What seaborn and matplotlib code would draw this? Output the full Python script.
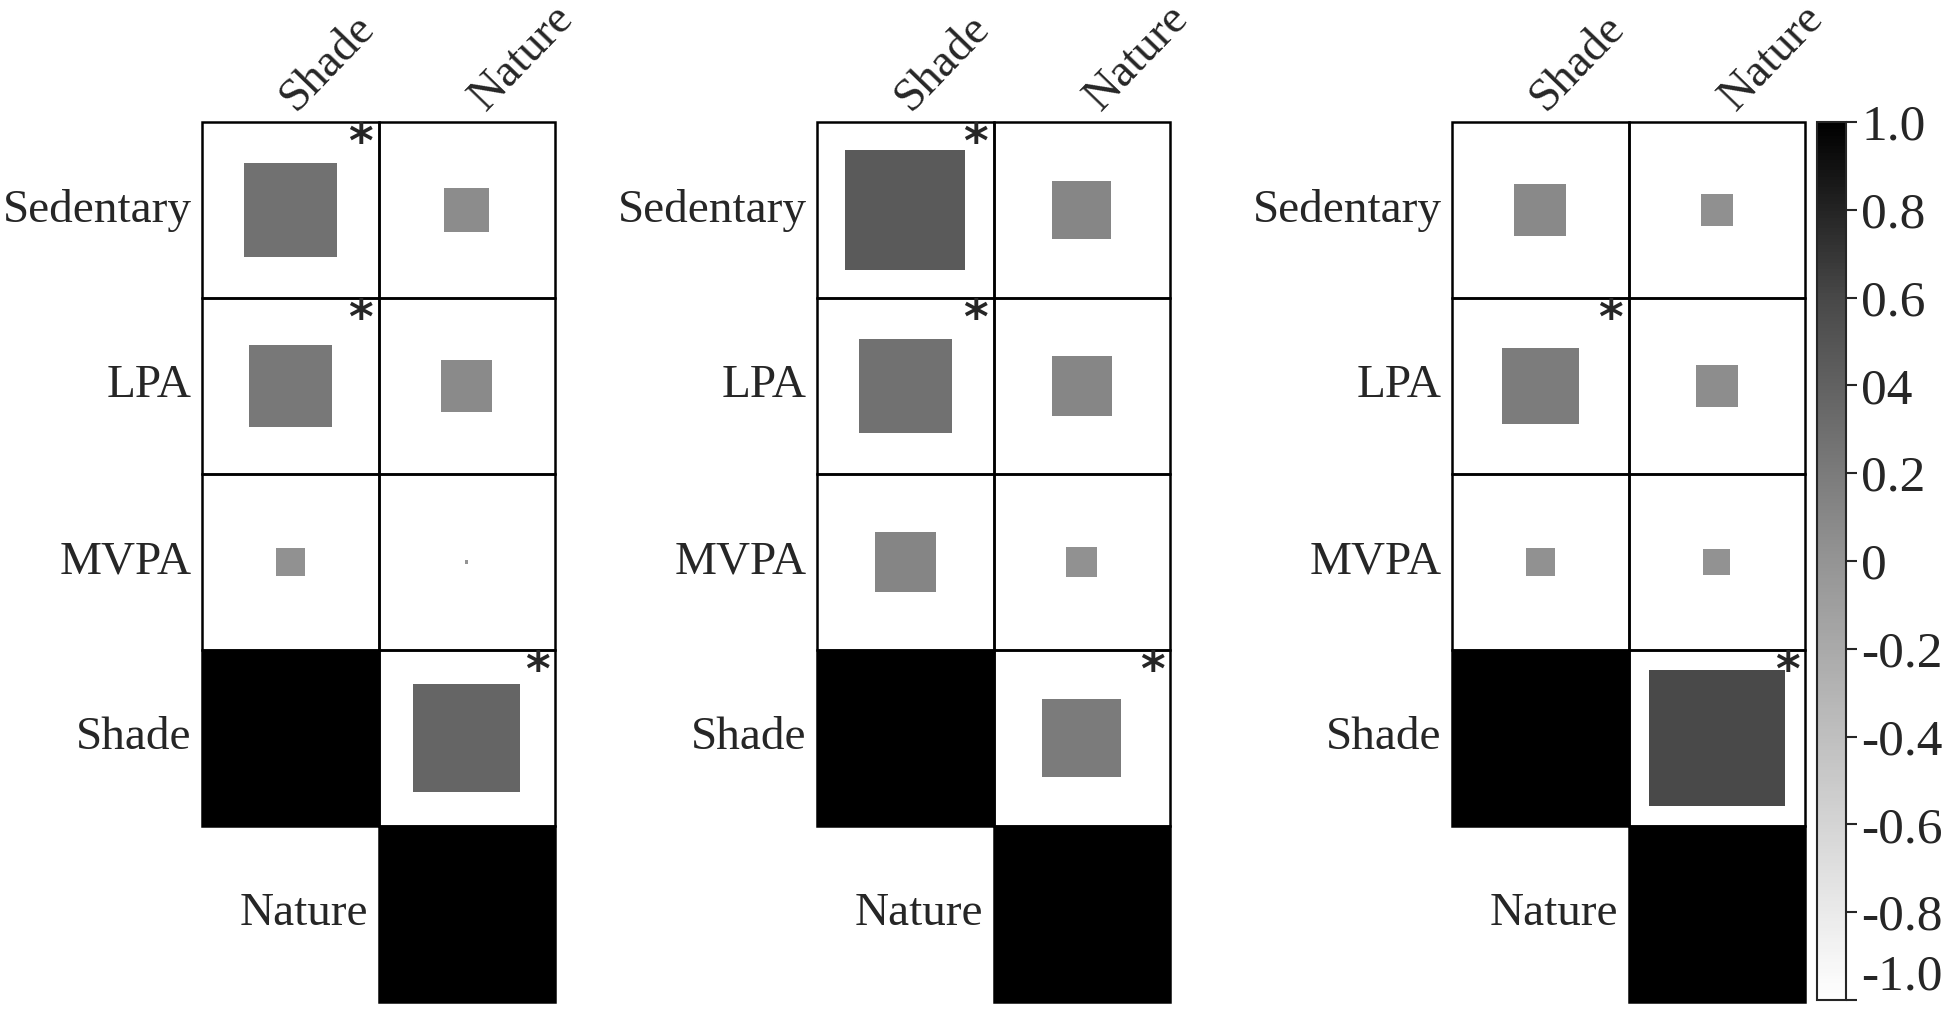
import numpy as np
import pandas as pd
import seaborn as sns
import matplotlib.pyplot as plt
from matplotlib.colors import LinearSegmentedColormap, ListedColormap, Normalize
from matplotlib.cm import ScalarMappable
from matplotlib.patches import Rectangle

nan = np.nan

# row / column variables
row_names = ["Sedentary", "LPA", "MVPA", "Shade", "Nature"]
col_names = ["Shade", "Nature"]

p1_shade = [0.28, 0.22, 0.027, 1.0, nan]
p1_nature = [0.065, 0.085, 0.0003, 0.37, 1.0]
p1_sig_shade = [True, True, False, False, False]
p1_sig_nature = [False, False, False, True, False]

p2_shade = [0.46, 0.28, 0.12, 1.0, nan]
p2_nature = [0.11, 0.115, 0.03, 0.20, 1.0]
p2_sig_shade = [True, True, False, False, False]
p2_sig_nature = [False, False, False, True, False]

p3_shade = [0.088, 0.19, 0.027, 1.0, nan]
p3_nature = [0.032, 0.057, 0.023, 0.59, 1.0]
p3_sig_shade = [False, True, False, False, False]
p3_sig_nature = [False, False, False, True, False]

cbar_ticks = [-1.0, -0.8, -0.6, -0.4, -0.2, 0.0, 0.2, 0.4, 0.6, 0.8, 1.0]
cbar_labels = ["-1.0", "-0.8", "-0.6", "-0.4", "-0.2", "0", "0.2", "04", "0.6", "0.8", "1.0"]

sns.set_style("white")
plt.rcParams['font.family'] = ['Liberation Serif', 'DejaVu Serif']
plt.rcParams['axes.unicode_minus'] = False

cmap = LinearSegmentedColormap.from_list(
    "greys_corr", [(0, "white"), (0.5, "#949494"), (0.8, "#484848"), (1, "black")])
norm = Normalize(-1, 1)

W, H = 1944, 1013
fig = plt.figure(figsize=(W / 100, H / 100), dpi=100)

panels = [
    (p1_shade, p1_nature, p1_sig_shade, p1_sig_nature, 202),
    (p2_shade, p2_nature, p2_sig_shade, p2_sig_nature, 817),
    (p3_shade, p3_nature, p3_sig_shade, p3_sig_nature, 1452),
]
col_label_x = [0.57, 0.65]

grid_top, grid_bottom = 122, 1002
for shade, nature, sig_s, sig_n, left in panels:
    ax = fig.add_axes([left / W, (H - grid_bottom) / H, 353 / W, (grid_bottom - grid_top) / H])
    df = pd.DataFrame({"Shade": shade, "Nature": nature}, index=row_names)
    sig = pd.DataFrame({"Shade": sig_s, "Nature": sig_n}, index=row_names)

    # white cells, lower-left cell left empty
    sns.heatmap(df, mask=df.isna(), cmap=ListedColormap(["white"]), cbar=False,
                linewidths=0, xticklabels=False, yticklabels=False, ax=ax)

    for i, rname in enumerate(row_names):
        for j, cname in enumerate(col_names):
            r = df.loc[rname, cname]
            if np.isnan(r):
                continue
            # cell border
            ax.add_patch(Rectangle((j, i), 1, 1, fill=False, edgecolor="black",
                                   linewidth=1.8, clip_on=False, zorder=2))
            s = np.sqrt(abs(r))
            ax.add_patch(Rectangle((j + 0.5 - s / 2, i + 0.5 - s / 2), s, s,
                                   facecolor=cmap(norm(r)), edgecolor="none",
                                   clip_on=False, zorder=3))
            if sig.loc[rname, cname]:
                ax.text(j + 0.9, i + 0.13, "*", ha="center", va="center",
                        fontsize=34, fontweight="bold", family="DejaVu Sans",
                        zorder=5)
        # row label next to the first drawn cell
        j0 = 0 if not np.isnan(df.loc[rname, "Shade"]) else 1
        ax.text(j0 - 0.06, i + 0.5, rname, ha="right", va="center", fontsize=34)

    for j, cname in enumerate(col_names):
        ax.text(j + col_label_x[j], -0.015, cname, rotation=46, rotation_mode="anchor",
                ha="left", va="bottom", fontsize=34)

    ax.set_xticks([])
    ax.set_yticks([])
    for sp in ax.spines.values():
        sp.set_visible(False)

cax = fig.add_axes([1817 / W, (H - 1000) / H, 29 / W, 878 / H])
cb = fig.colorbar(ScalarMappable(norm=norm, cmap=cmap), cax=cax, ticks=cbar_ticks)
cb.ax.set_yticklabels(cbar_labels)
cb.ax.tick_params(labelsize=37, length=8, width=1.5, pad=3)
cb.outline.set_linewidth(1.5)
# keep the lowest label inside the figure
cb.ax.get_yticklabels()[0].set_verticalalignment("bottom")

fig.savefig("out.png", dpi=100)
